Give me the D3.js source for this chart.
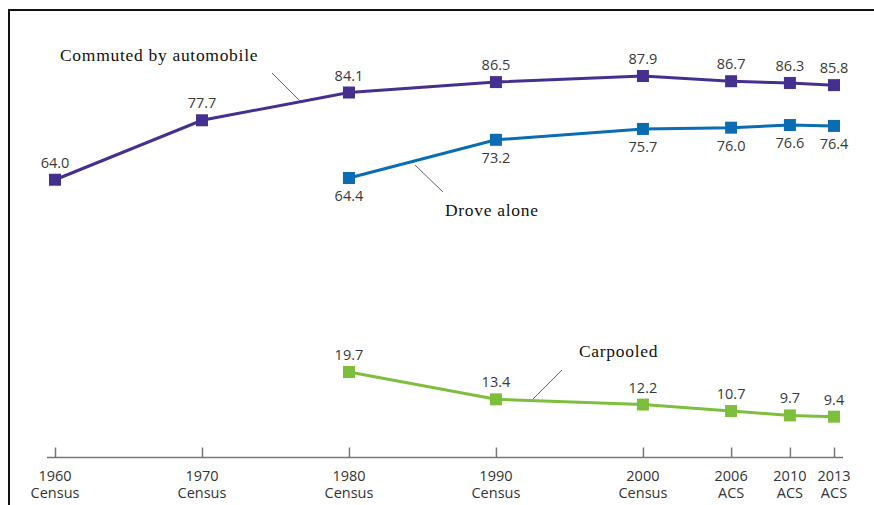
<!DOCTYPE html>
<html>
<head>
<meta charset="utf-8">
<script src="https://cdn.jsdelivr.net/npm/d3@7/dist/d3.min.js"></script>
<style>
  html, body { margin: 0; padding: 0; background: #fff; }
  svg { display: block; }
</style>
</head>
<body>
<svg id="chart" width="874" height="505"></svg>
<script>
// Survey years and their two-line axis labels
const years = [1960, 1970, 1980, 1990, 2000, 2006, 2010, 2013];
const tickTop = ["1960", "1970", "1980", "1990", "2000", "2006", "2010", "2013"];
const tickBottom = ["Census", "Census", "Census", "Census", "Census", "ACS", "ACS", "ACS"];

// Percent of workers by commuting mode
const automobileYears = [1960, 1970, 1980, 1990, 2000, 2006, 2010, 2013];
const automobile = [64.0, 77.7, 84.1, 86.5, 87.9, 86.7, 86.3, 85.8];
const droveAloneYears = [1980, 1990, 2000, 2006, 2010, 2013];
const droveAlone = [64.4, 73.2, 75.7, 76.0, 76.6, 76.4];
const carpooledYears = [1980, 1990, 2000, 2006, 2010, 2013];
const carpooled = [19.7, 13.4, 12.2, 10.7, 9.7, 9.4];

const seriesNames = ["Commuted by automobile", "Drove alone", "Carpooled"];

const svg = d3.select("#chart");
const sans = "'Open Sans', 'Noto Sans', sans-serif";

const x = d3.scaleLinear().domain([1960, 2013]).range([55, 834]);
const y = d3.scaleLinear().domain([0, 100]).range([457.5, 23.5]);

// Frame: top and left rules
svg.append("line").attr("x1", 8).attr("x2", 874).attr("y1", 10).attr("y2", 10)
  .attr("stroke", "#111").attr("stroke-width", 2);
svg.append("line").attr("x1", 9).attr("x2", 9).attr("y1", 9).attr("y2", 505)
  .attr("stroke", "#111").attr("stroke-width", 2);

// Horizontal axis with upward ticks
const axisY = y(0);
const axis = d3.axisBottom(x).tickValues(years).tickSizeInner(-10).tickSizeOuter(0).tickFormat("");
const gAxis = svg.append("g").attr("transform", `translate(0,${axisY})`).call(axis);
gAxis.select(".domain").attr("d", `M${x(1960) - 8},0H${x(2013) + 9}`)
  .attr("stroke", "#777").attr("stroke-width", 1.5);
gAxis.selectAll(".tick line").attr("stroke", "#777").attr("stroke-width", 1.5);

const tickLabels = svg.append("g")
  .attr("font-family", sans)
  .attr("font-size", 14.5).attr("fill", "#333").attr("text-anchor", "middle");
years.forEach((yr, i) => {
  tickLabels.append("text").attr("x", x(yr)).attr("y", axisY + 23).text(tickTop[i]);
  tickLabels.append("text").attr("x", x(yr)).attr("y", axisY + 40).text(tickBottom[i]);
});

function drawSeries(xs, vals, color, labelOffset) {
  const pts = xs.map((yr, i) => [yr, vals[i]]);
  const line = d3.line().x(d => x(d[0])).y(d => y(d[1]));
  const g = svg.append("g");
  g.append("path").datum(pts).attr("d", line)
    .attr("fill", "none").attr("stroke", color).attr("stroke-width", 3);
  const s = 12;
  g.selectAll("rect").data(pts).join("rect")
    .attr("x", d => x(d[0]) - s / 2).attr("y", d => y(d[1]) - s / 2)
    .attr("width", s).attr("height", s).attr("fill", color);
  g.selectAll("text").data(pts).join("text")
    .attr("x", d => x(d[0])).attr("y", d => y(d[1]) + labelOffset)
    .attr("text-anchor", "middle")
    .attr("font-family", sans)
    .attr("font-size", 14.5).attr("fill", "#3a3a3a")
    .text(d => d[1].toFixed(1));
}

drawSeries(automobileYears, automobile, "#46308f", -12);
drawSeries(droveAloneYears, droveAlone, "#0a6db3", 23);
drawSeries(carpooledYears, carpooled, "#7dbf3d", -12);

// Series call-outs with leader lines
const notes = svg.append("g").attr("font-family", "'Liberation Serif', 'DejaVu Serif', serif")
  .attr("font-size", 17.5).attr("letter-spacing", 0.7).attr("fill", "#111");
const leader = (x1, y1, x2, y2) => svg.append("line")
  .attr("x1", x1).attr("y1", y1).attr("x2", x2).attr("y2", y2)
  .attr("stroke", "#666").attr("stroke-width", 1);

notes.append("text").attr("x", 60).attr("y", 61).text(seriesNames[0]);
leader(272, 73, 300, 101);

notes.append("text").attr("x", 445).attr("y", 216).text(seriesNames[1]);
leader(415, 165, 443, 192);

notes.append("text").attr("x", 579).attr("y", 357).text(seriesNames[2]);
leader(562, 370, 533, 399);
</script>
</body>
</html>
